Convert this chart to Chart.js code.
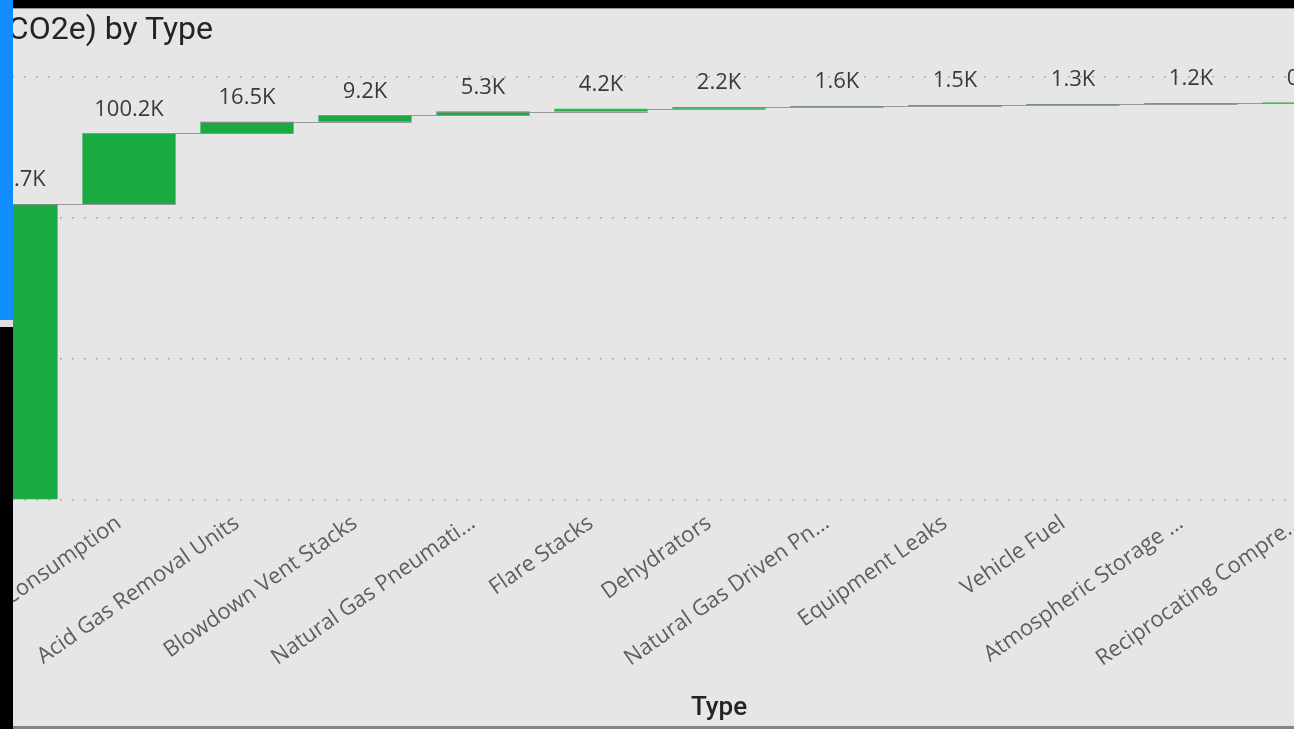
<!DOCTYPE html>
<html>
<head>
<meta charset="utf-8">
<title>Emisiones por tipo</title>
<script src="https://cdn.jsdelivr.net/npm/chart.js@4.4.0/dist/chart.umd.min.js"></script>
<style>
    html, body {
        margin: 0;
        padding: 0;
        width: 1294px;
        height: 729px;
        overflow: hidden;
        background: #e6e6e6;
        position: relative;
    }
    .bloque { position: absolute; }
    #franja_negra { left: 0; top: 0; width: 1294px; height: 8px; background: #000; }
    #linea_sup { left: 0; top: 8px; width: 1294px; height: 1px; background: #9a9a9a; }
    #franja_azul { left: 0; top: 0; width: 13px; height: 320px; background: #118dff; z-index: 5; }
    #hueco { left: 0; top: 320px; width: 13px; height: 7px; background: #dedede; z-index: 5; }
    #negro_izq { left: 0; top: 327px; width: 13px; height: 402px; background: #000; z-index: 5; }
    #linea_inf { left: 0; top: 726px; width: 1294px; height: 3px; background: #858585; z-index: 4; }
    #titulo {
        position: absolute;
        right: 1081px;
        top: 9px;
        white-space: nowrap;
        font-family: Roboto, sans-serif;
        font-size: 32px;
        color: #252423;
        z-index: 3;
    }
    #contenedor {
        position: absolute;
        left: -48px;
        top: 10px;
        width: 1534px;
        height: 716px;
    }
</style>
</head>
<body>
<div class="bloque" id="franja_negra"></div>
<div class="bloque" id="linea_sup"></div>
<div class="bloque" id="franja_azul"></div>
<div class="bloque" id="hueco"></div>
<div class="bloque" id="negro_izq"></div>
<div class="bloque" id="linea_inf"></div>
<div id="titulo">Total Emissions (tCO2e) by Type</div>
<div id="contenedor"><canvas id="char_tipos"></canvas></div>

<script>
// categorias (la primera queda fuera del recorte)
var categorias = [
    "Stationary Combustion",
    "Fuel Consumption",
    "Acid Gas Removal Units",
    "Blowdown Vent Stacks",
    "Natural Gas Pneumati...",
    "Flare Stacks",
    "Dehydrators",
    "Natural Gas Driven Pn...",
    "Equipment Leaks",
    "Vehicle Fuel",
    "Atmospheric Storage ...",
    "Reciprocating Compre...",
];
// valores en miles de tCO2e
var valores = [419.7, 100.2, 16.5, 9.2, 5.3, 4.2, 2.2, 1.6, 1.5, 1.3, 1.2, 0.9];
var etiqueta_total = "Total";
var ticks_y = [0, 200, 400, 600];

var color_barra = "rgb(26, 170, 65)";
var color_total = "rgb(17, 141, 255)";

// armar tramos flotantes del waterfall
var tramos = [];
var finales = [];
var acumulado = 0;
valores.forEach(function (v) {
    tramos.push([acumulado, acumulado + v]);
    acumulado += v;
    finales.push(acumulado);
});
var etiquetas_x = categorias.concat([etiqueta_total]);
tramos.push([0, acumulado]);
finales.push(acumulado);
var valores_todos = valores.concat([acumulado]);
var colores = valores.map(function () { return color_barra; }).concat([color_total]);

function formato_k(v) {
    return v.toFixed(1) + "K";
}

var plugin_waterfall = {
    id: "waterfall_extra",
    afterDatasetsDraw: function (chart) {
        var ctx = chart.ctx;
        var meta = chart.getDatasetMeta(0);
        var esc_y = chart.scales.y;
        ctx.save();
        // conectores
        ctx.strokeStyle = "rgba(140, 140, 140, 0.85)";
        ctx.lineWidth = 1;
        for (var i = 0; i < meta.data.length - 1; i++) {
            var a = meta.data[i];
            var b = meta.data[i + 1];
            var yy = Math.round(esc_y.getPixelForValue(finales[i])) + 0.5;
            ctx.beginPath();
            ctx.moveTo(a.x - a.width / 2, yy);
            ctx.lineTo(b.x + b.width / 2, yy);
            ctx.stroke();
        }
        // etiquetas de datos
        ctx.font = '22px "Open Sans"';
        ctx.fillStyle = "#3b3a39";
        ctx.textAlign = "center";
        ctx.textBaseline = "middle";
        meta.data.forEach(function (barra, i) {
            var arriba = Math.min(barra.y, barra.base);
            ctx.fillText(formato_k(valores_todos[i]), barra.x, arriba - 24);
        });
        ctx.restore();
    },
};

var ctx_tipos = document.getElementById("char_tipos");
var char_tipos = new Chart(ctx_tipos, {
    type: "bar",
    data: {
        labels: etiquetas_x,
        datasets: [
            {
                label: "Emissions",
                data: tramos,
                backgroundColor: colores,
                borderWidth: 0,
                categoryPercentage: 1,
                barPercentage: 0.79,
            },
        ],
    },
    options: {
        responsive: true,
        maintainAspectRatio: false,
        animation: false,
        layout: {
            padding: { left: 0, right: 0, top: 67, bottom: 0 },
        },
        plugins: {
            legend: { display: false },
            tooltip: { enabled: false },
            title: { display: false },
        },
        scales: {
            x: {
                grid: { display: false },
                border: { display: false },
                ticks: {
                    autoSkip: false,
                    minRotation: 35,
                    maxRotation: 35,
                    padding: 2,
                    labelOffset: -10,
                    color: "#605e5c",
                    font: { family: "Open Sans", size: 22 },
                },
                title: {
                    display: true,
                    text: "Type",
                    color: "#252423",
                    font: { family: "Roboto", size: 26, weight: "500" },
                    padding: { top: 0, bottom: 2 },
                },
                afterFit: function (escala) {
                    escala.height = 226;
                    escala.paddingLeft = 0;
                    escala.paddingRight = 0;
                },
            },
            y: {
                min: 0,
                max: ticks_y[ticks_y.length - 1],
                afterBuildTicks: function (escala) {
                    escala.ticks = ticks_y.map(function (v) { return { value: v }; });
                },
                ticks: { display: false },
                grid: {
                    color: "rgba(150, 150, 150, 0.7)",
                    lineWidth: 1.5,
                    drawTicks: false,
                },
                border: { display: false, dash: [2, 10] },
                afterFit: function (escala) {
                    escala.width = 0;
                },
            },
        },
    },
    plugins: [plugin_waterfall],
});
</script>
</body>
</html>
